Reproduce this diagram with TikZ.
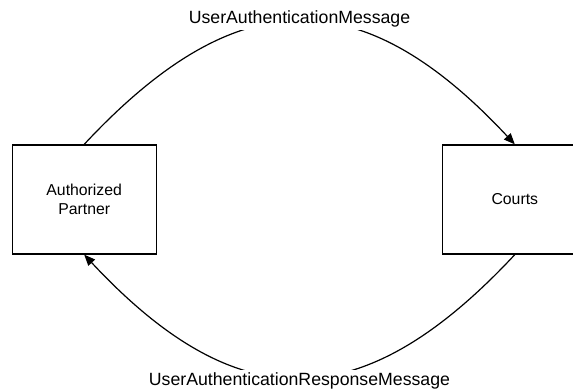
\documentclass[tikz,border=0pt]{standalone}
\usepackage{fontspec}
\setmainfont{Liberation Sans}
\usetikzlibrary{arrows.meta,positioning}

\begin{document}
\begin{tikzpicture}[
  x=0.5pt,y=0.5pt,
  every node/.style={align=center},
  block/.style={draw,line width=0.65pt,minimum width=72pt,minimum height=54.5pt,inner sep=0pt,font=\fontsize{7.9}{9.5}\selectfont},
  msg/.style={fill=white,inner sep=1.5pt,font=\fontsize{8.85}{10.6}\selectfont},
  link/.style={-{Triangle[length=5.5pt,width=4.5pt]},line width=0.6pt}]

  % Page frame, the right box runs off the edge
  \path[use as bounding box,clip] (0,0) rectangle (573,391);

  % Position the nodes
  \node[block] (partner) at (84.2,191.5) {Authorized\\Partner};
  \node[block,right=142.65pt of partner] (courts) {Courts};

  % Draw the message arcs and label them.
  \draw[link] (partner.north) .. controls +(153,164) and +(-153,164) .. node[msg,yshift=1.25pt] {UserAuthenticationMessage} (courts.north);
  \draw[link] (courts.south) .. controls +(-153,-164) and +(153,-164) .. node[msg,yshift=-1.75pt] {UserAuthenticationResponseMessage} (partner.south);
\end{tikzpicture}
\end{document}
